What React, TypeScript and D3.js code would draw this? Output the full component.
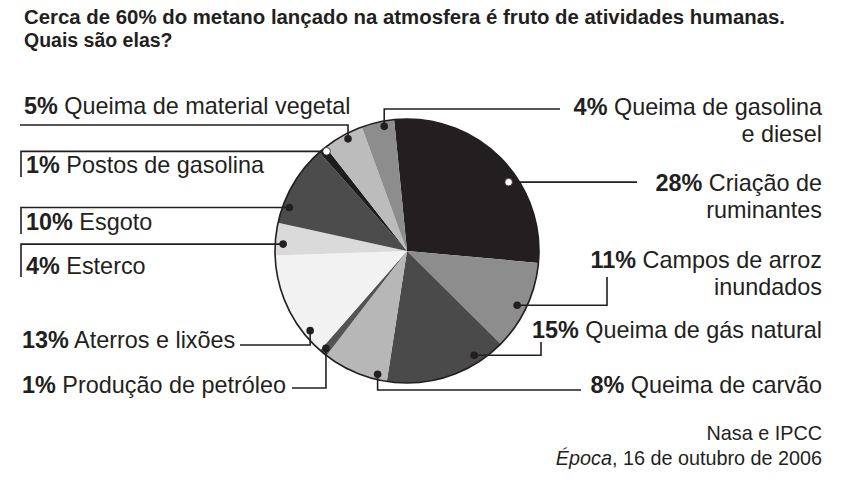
import React from "react";
import * as d3 from "d3";

// shares of methane from human activity, clockwise from the top
const pcts = [28, 11, 15, 8, 1, 13, 4, 10, 1, 5, 4];
const names = [
  ["Criação de", "ruminantes"],
  ["Campos de arroz", "inundados"],
  ["Queima de gás natural"],
  ["Queima de carvão"],
  ["Produção de petróleo"],
  ["Aterros e lixões"],
  ["Esterco"],
  ["Esgoto"],
  ["Postos de gasolina"],
  ["Queima de material vegetal"],
  ["Queima de gasolina", "e diesel"],
];
const shades = [
  "#231f20", "#8e8d8d", "#4b4a4a", "#b7b7b7", "#555454", "#f2f2f2",
  "#dadada", "#4d4c4c", "#1e1c1c", "#bcbcbc", "#8e8d8d",
];

const W = 842;
const H = 498;
const cx = 407;
const cy = 251;
const R = 132;
const ink = "#231f20";

// where the dot sits inside each slice (fraction of slice angle, fraction of radius)
const dotT = [0.61, 0.53, 0.23, 0.16, 0.6, 0.2, 0.36, 0.22, 0.75, 0.57, 0.67];
const dotR = [0.93, 0.93, 0.94, 0.96, 0.96, 0.95, 0.94, 0.95, 0.97, 0.96, 0.96];
const hollow = [true, false, false, false, false, false, false, false, true, false, false];

// leader routes after the dot: {x} horizontal move, {y} vertical move
type Step = { x?: number; y?: number };
const routes: Step[][] = [
  [{ x: 637 }],
  [{ x: 607 }, { y: 277 }],
  [{ x: 541 }, { y: 342 }],
  [{ y: 390 }, { x: 581 }],
  [{ y: 388 }, { x: 292 }],
  [{ y: 345 }, { x: 240 }],
  [{ x: 21 }, { y: 277 }],
  [{ x: 21 }, { y: 234 }],
  [{ x: 21 }, { y: 177 }],
  [{ y: 125 }, { x: 20 }],
  [{ y: 109 }, { x: 560 }],
];

// label placement: anchor side, x, first baseline
const labelPos: { side: "start" | "end"; x: number; y: number }[] = [
  { side: "end", x: 822, y: 191 },
  { side: "end", x: 822, y: 268 },
  { side: "end", x: 822, y: 338 },
  { side: "end", x: 822, y: 393 },
  { side: "start", x: 22, y: 393 },
  { side: "start", x: 22, y: 348 },
  { side: "start", x: 26, y: 274 },
  { side: "start", x: 26, y: 230 },
  { side: "start", x: 26, y: 173 },
  { side: "start", x: 24, y: 114 },
  { side: "end", x: 822, y: 115 },
];

const start = (-5.6 * Math.PI) / 180;

export default function App() {
  const arcs = d3
    .pie<number>()
    .sort(null)
    .value((d) => d)
    .startAngle(start)
    .endAngle(start + 2 * Math.PI)(pcts);
  const arc = d3.arc<d3.PieArcDatum<number>>().innerRadius(0).outerRadius(R);

  const dots = arcs.map((a, i) => {
    const ang = a.startAngle + (a.endAngle - a.startAngle) * dotT[i];
    const r = R * dotR[i];
    return [cx + r * Math.sin(ang), cy - r * Math.cos(ang)];
  });

  const leader = (i: number) => {
    let [x, y] = dots[i];
    const pts: [number, number][] = [[x, y]];
    routes[i].forEach((s) => {
      if (s.x !== undefined) x = s.x;
      if (s.y !== undefined) y = s.y;
      pts.push([x, y]);
    });
    return d3.line()(pts) as string;
  };

  return (
    <svg
      width={W}
      height={H}
      style={{ position: "absolute", left: 0, top: 0, background: "#fff" }}
      fontFamily="'Liberation Sans', Arial, sans-serif"
    >
      <text x={24} y={24} fontSize={19.5} fontWeight="bold" fill={ink} textLength={761} lengthAdjust="spacingAndGlyphs">
        Cerca de 60% do metano lançado na atmosfera é fruto de atividades humanas.
      </text>
      <text x={24} y={47} fontSize={19.5} fontWeight="bold" fill={ink}>
        Quais são elas?
      </text>

      <g transform={`translate(${cx},${cy})`}>
        {arcs.map((a, i) => (
          <path key={i} d={arc(a) as string} fill={shades[i]} />
        ))}
        <circle r={R} fill="none" stroke={ink} strokeWidth={1.6} />
      </g>

      {pcts.map((_, i) => (
        <path key={i} d={leader(i)} fill="none" stroke={ink} strokeWidth={1.6} />
      ))}
      {dots.map(([x, y], i) => (
        <circle
          key={i}
          cx={x}
          cy={y}
          r={3.8}
          fill={hollow[i] ? "#fff" : ink}
          stroke={hollow[i] ? ink : "none"}
          strokeWidth={0.8}
        />
      ))}

      {pcts.map((p, i) => {
        const lp = labelPos[i];
        return (
          <text key={i} fontSize={23.4} fill={ink} textAnchor={lp.side}>
            {names[i].map((ln, j) => (
              <tspan key={j} x={lp.x} y={lp.y + j * 27}>
                {j === 0 && <tspan fontWeight="bold">{p}%</tspan>}
                {j === 0 ? " " + ln : ln}
              </tspan>
            ))}
          </text>
        );
      })}

      <text x={822} y={440} fontSize={19.8} fill={ink} textAnchor="end">
        Nasa e IPCC
      </text>
      <text x={822} y={465} fontSize={19.8} fill={ink} textAnchor="end">
        <tspan fontStyle="italic">Época</tspan>, 16 de outubro de 2006
      </text>
    </svg>
  );
}
